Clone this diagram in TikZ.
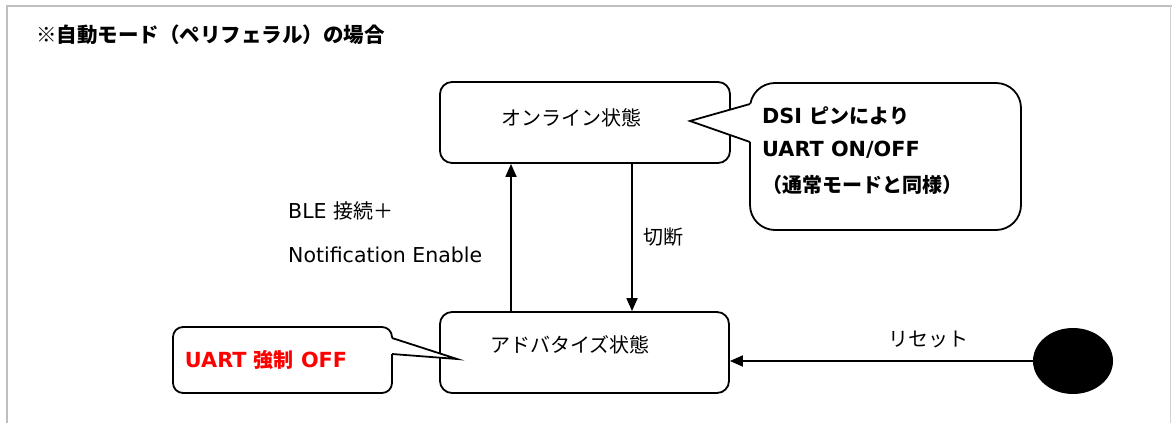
\documentclass[tikz,border=0pt]{standalone}
\usepackage{fontspec}
\setmainfont{Noto Sans CJK JP}
\newfontfamily\lat{DejaVu Sans}
\usetikzlibrary{arrows.meta,shapes.geometric}
\tikzset{
  statebox/.style={draw=black,line width=1.8pt,rounded corners=12pt,fill=none,inner sep=0pt},
  bubble/.style={draw=black,line width=1.8pt,inner sep=0pt},
  arr/.style={line width=1.8pt,-{Triangle[length=13pt,width=11pt]}},
  jtext/.style={font=\fontsize{20}{22}\selectfont,inner sep=0pt},
  btext/.style={font=\fontsize{20}{22}\selectfont\bfseries,inner sep=0pt,anchor=west},
  frameline/.style={draw=black!25,line width=2pt}
}
\newcommand{\latb}[1]{{\lat\fontsize{20.8}{22}\selectfont\bfseries #1}}
\newcommand{\latr}[1]{{\lat\fontsize{20.5}{22}\selectfont #1}}
\begin{document}
\begin{tikzpicture}[x=1pt,y=1pt]
\useasboundingbox (0,0) rectangle (1172,423);
% frame
\draw[frameline] (7,0) -- (7,417) -- (1172,417);
\draw[draw=black!18,line width=1pt] (1170.5,0) -- (1170.5,417);
% title
\node[anchor=west,inner sep=0pt,font=\fontsize{20.5}{22}\selectfont\bfseries] (title) at (36,388) {※自動モード（ペリフェラル）の場合};
% states
\node[statebox,minimum width=290pt,minimum height=81pt] (online) at (585,300.5) {};
\node[jtext] (onlinet) at (571,305) {オンライン状態};
\node[statebox,minimum width=289pt,minimum height=81pt] (advert) at (584.5,70.5) {};
\node[jtext] (advertt) at (570,78) {アドバタイズ状態};
% initial state
\node[ellipse,fill=black,minimum width=80pt,minimum height=66pt,inner sep=0pt] (init) at (1073,62) {};
% right callout
\node[bubble,rounded corners=25pt,minimum width=271pt,minimum height=147pt] (cr) at (885.5,266.5) {};
\coordinate (crtip) at (690,302);
\coordinate (crb1) at (750,319);
\coordinate (crb2) at (750,281);
\fill[white] ([xshift=-1pt]crb1) -- (crtip) -- ([xshift=-1pt]crb2) -- ([xshift=2pt]crb2) -- ([xshift=2pt]crb1) -- cycle;
\draw[line width=1.8pt,line join=miter] (crb1) -- (crtip) -- (crb2);
\node[btext] (cr1) at (762,307) {\latb{DSI }ピンにより};
\node[btext] (cr2) at (762,273) {\latb{UART ON/OFF}};
\node[btext] (cr3) at (762,238) {（通常モードと同様）};
% left callout
\node[bubble,rounded corners=10pt,minimum width=219pt,minimum height=66pt] (cl) at (282.5,63) {};
\coordinate (cltip) at (457,64);
\coordinate (clb1) at (392,85);
\coordinate (clb2) at (392,69);
\fill[white] ([xshift=1pt]clb1) -- (cltip) -- ([xshift=1pt]clb2) -- ([xshift=-2pt]clb2) -- ([xshift=-2pt]clb1) -- cycle;
\draw[line width=1.8pt,line join=miter] (clb1) -- (cltip) -- (clb2);
\node[btext,anchor=center,text=red] (clt) at (266,63) {\latb{UART }強制\latb{ OFF}};
% transitions
\draw[arr] ([xshift=-73.5pt]advert.north) -- ([xshift=-73.5pt]advert.north |- online.south);
\draw[arr] ([xshift=47pt]online.south) -- ([xshift=47pt]online.south |- advert.north);
\draw[arr] (init.west) -- (init.west -| advert.east);
% labels
\node[jtext,anchor=west] (ble) at (288,212) {\latr{BLE }接続＋};
\node[jtext,anchor=west] (notif) at (288,168) {\latr{Notification Enable}};
\node[jtext] (cut) at (663,186) {切断};
\node[jtext] (reset) at (928,83) {リセット};
\end{tikzpicture}
\end{document}
